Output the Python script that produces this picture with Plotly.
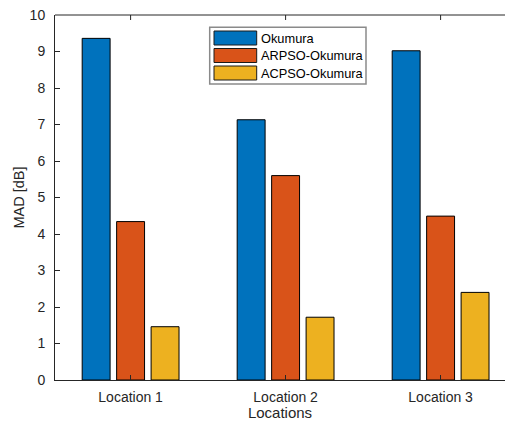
import plotly.graph_objects as go

categories = ["Location 1", "Location 2", "Location 3"]
series_names = ["Okumura", "ARPSO-Okumura", "ACPSO-Okumura"]
okumura = [9.36, 7.13, 9.02]
arpso = [4.34, 5.60, 4.49]
acpso = [1.46, 1.72, 2.40]
series_values = [okumura, arpso, acpso]
colors = ["#0072BD", "#D95319", "#EDB120"]
y_ticks = list(range(0, 11))

W, H = 505, 421
ML, MT, MB, MR = 55, 15, 41, 0
PW = W - ML - MR
PH = H - MT - MB
FONT = "Liberation Sans, Arial, sans-serif"
TXT = "#262626"


def px_x(p):
    return (p - ML) / PW


def px_y(p):
    return (H - MB - p) / PH


fig = go.Figure()
for name, vals, col in zip(series_names, series_values, colors):
    fig.add_trace(go.Bar(
        x=categories, y=vals, name=name,
        marker=dict(color=col, line=dict(color="#000000", width=1)),
        showlegend=False,
    ))

unit = 155.0
x0 = -75.6 / unit
fig.update_layout(
    width=W, height=H,
    margin=dict(l=ML, r=MR, t=MT, b=MB, pad=0),
    paper_bgcolor="white", plot_bgcolor="white",
    barmode="group", bargap=0.333, bargroupgap=0.19,
    font=dict(family=FONT, size=14, color=TXT),
    xaxis=dict(
        range=[x0, x0 + PW / unit], showline=True, linecolor=TXT, linewidth=1,
        ticks="inside", ticklen=5, tickcolor=TXT, showgrid=False, zeroline=False,
        tickfont=dict(size=14, color=TXT), ticklabelstandoff=4,
        title=dict(text="Locations", font=dict(size=15, color=TXT), standoff=6),
    ),
    yaxis=dict(
        range=[0, 10], tickvals=y_ticks, showline=True, linecolor=TXT, linewidth=1,
        ticks="inside", ticklen=5, tickcolor=TXT, showgrid=False, zeroline=False,
        tickfont=dict(size=14, color=TXT), ticklabelstandoff=6,
        title=dict(text="MAD [dB]", font=dict(size=14.5, color=TXT), standoff=1),
    ),
)

shapes = []
# top box line and mirrored ticks
shapes.append(dict(type="line", xref="paper", yref="paper", x0=0, x1=1, y0=1, y1=1,
                   line=dict(color=TXT, width=1)))
for c in categories:
    shapes.append(dict(type="line", xref="x", yref="paper", x0=c, x1=c, y0=1, y1=1 - 5 / PH,
                       line=dict(color=TXT, width=1)))

# custom MATLAB-like legend
box = (209.7, 27.3, 366.0, 84.0)
shapes.append(dict(type="rect", xref="paper", yref="paper",
                   x0=px_x(box[0]), x1=px_x(box[2]), y0=px_y(box[3]), y1=px_y(box[1]),
                   line=dict(color="#8a8a8a", width=1.5), fillcolor="white", layer="above"))
annotations = []
for i, (name, col) in enumerate(zip(series_names, colors)):
    top = 31.0 + i * 17.5
    shapes.append(dict(type="rect", xref="paper", yref="paper",
                       x0=px_x(214.0), x1=px_x(256.7), y0=px_y(top + 14), y1=px_y(top),
                       line=dict(color="#1a1a1a", width=1), fillcolor=col, layer="above"))
    annotations.append(dict(xref="paper", yref="paper", x=px_x(258.5), y=px_y(top + 7.2),
                            xanchor="left", yanchor="middle", showarrow=False, text=name,
                            font=dict(size=12.8, color="#000000", family=FONT)))

fig.update_layout(shapes=shapes, annotations=annotations)
fig.write_html("out.html")
